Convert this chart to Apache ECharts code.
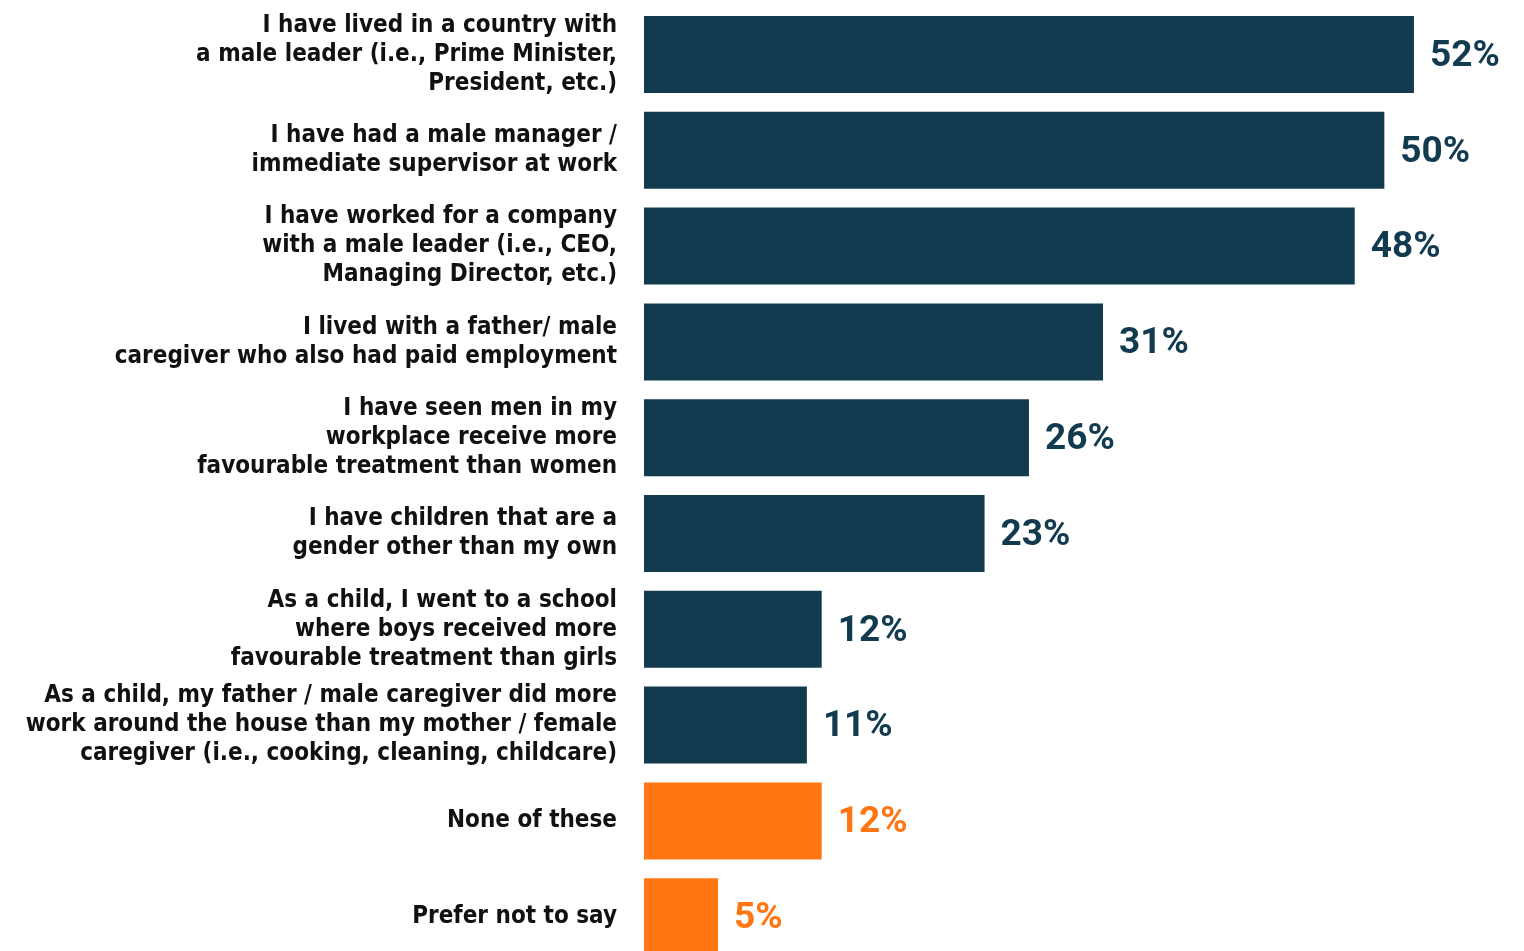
<!DOCTYPE html>
<html><head><meta charset="utf-8">
<script src="https://cdn.jsdelivr.net/npm/echarts@6/dist/echarts.min.js"></script>
<style>html,body{margin:0;padding:0;background:#fff}#c{width:1524px;height:951px}</style>
</head><body><div id="c"></div>
<script>
const categories = [
  "I have lived in a country with\na male leader (i.e., Prime Minister,\nPresident, etc.)",
  "I have had a male manager /\nimmediate supervisor at work",
  "I have worked for a company\nwith a male leader (i.e., CEO,\nManaging Director, etc.)",
  "I lived with a father/ male\ncaregiver who also had paid employment",
  "I have seen men in my\nworkplace receive more\nfavourable treatment than women",
  "I have children that are a\ngender other than my own",
  "As a child, I went to a school\nwhere boys received more\nfavourable treatment than girls",
  "As a child, my father / male caregiver did more\nwork around the house than my mother / female\ncaregiver (i.e., cooking, cleaning, childcare)",
  "None of these",
  "Prefer not to say"
];
const values = [52, 50, 48, 31, 26, 23, 12, 11, 12, 5];
const groups = ["yes","yes","yes","yes","yes","yes","yes","yes","none","none"];
const DARK = "#133b50", ORANGE = "#ff7613";
const FONT = "'DejaVu Sans Condensed', 'Liberation Sans Narrow', Roboto, sans-serif";
const VFONT = "Roboto, 'Noto Sans', sans-serif";

const chart = echarts.init(document.getElementById('c'), null, {renderer:'canvas'});
chart.setOption({
  animation:false,
  grid:{left:644, top:6.6, height:958, width:858.8, containLabel:false, outerBoundsMode:'none'},
  xAxis:{type:'value', min:0, max:58, show:false},
  yAxis:{type:'category', inverse:true, data:categories,
    axisLine:{show:false}, axisTick:{show:false},
    axisLabel:{margin:27, color:'#111', fontFamily:FONT, fontWeight:'bold', fontSize:24, lineHeight:29, align:'right'}},
  series:[{type:'bar', barCategoryGap:'19.6%',
    data: values.map((v,i)=>({value:v,
      itemStyle:{color: groups[i]==='none'?ORANGE:DARK},
      label:{color: groups[i]==='none'?ORANGE:DARK}})),
    label:{show:true, position:'right', distance:16, offset:[0,2], formatter:'{c}%', fontFamily:VFONT, fontWeight:'bold', fontSize:37}
  }]
});
</script></body></html>
